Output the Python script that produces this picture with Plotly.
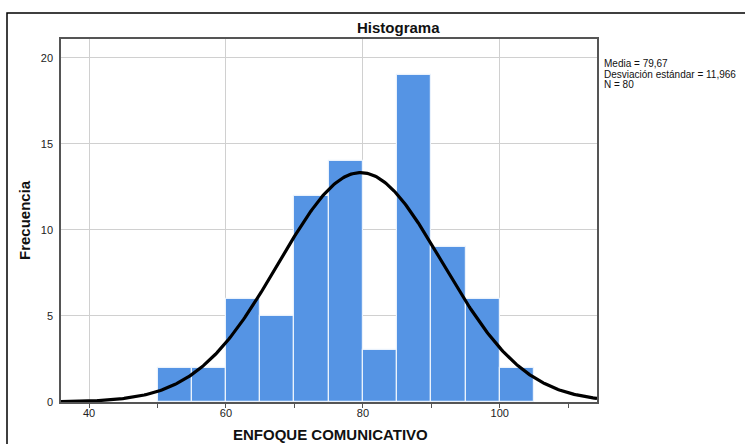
import numpy as np
import plotly.graph_objects as go

# Data
bin_starts = [50, 55, 60, 65, 70, 75, 80, 85, 90, 95, 100]
bin_width = 5
counts = [2, 2, 6, 5, 12, 14, 3, 19, 9, 6, 2]
mean = 79.67
std = 11.966
n = 80
x_tick_vals = [40, 60, 80, 100]
y_tick_vals = [0, 5, 10, 15, 20]

FONT = "Liberation Sans, Arial, sans-serif"

centers = [s + bin_width / 2 for s in bin_starts]

xr = [35.9, 114.2]
xs = np.linspace(xr[0], xr[1], 400)
ys = n * bin_width / (std * np.sqrt(2 * np.pi)) * np.exp(-0.5 * ((xs - mean) / std) ** 2)

fig = go.Figure()
fig.add_trace(go.Bar(
    x=centers, y=counts, width=[bin_width] * len(counts),
    marker=dict(color="#5594E4", line=dict(color="#EAF2FC", width=1.2)),
    hoverinfo="skip",
))
fig.add_trace(go.Scatter(
    x=xs, y=ys, mode="lines", line=dict(color="black", width=3.2), hoverinfo="skip",
))

fig.update_layout(
    width=745, height=444,
    margin=dict(l=61, r=148, t=39, b=42),
    paper_bgcolor="white", plot_bgcolor="white",
    showlegend=False,
    font=dict(family=FONT, color="#222", size=11),
    bargap=0,
)
fig.update_xaxes(
    range=xr, tickvals=x_tick_vals, ticks="", showgrid=True, gridcolor="#D0D0D0", gridwidth=1,
    showline=True, linecolor="#555", linewidth=1.5, mirror=True, zeroline=False,
    tickfont=dict(size=11, color="#222"),
    minor=dict(dtick=10, tick0=40, ticks="outside", ticklen=4, tickcolor="#555", showgrid=False),
)
fig.update_yaxes(
    range=[0, 21.1], tickvals=y_tick_vals, ticks="", showgrid=True, gridcolor="#D0D0D0", gridwidth=1,
    showline=True, linecolor="#555", linewidth=1.5, mirror=True, zeroline=False,
    tickfont=dict(size=11, color="#222"), ticklabelstandoff=4,
)

def px_x(p):
    return (p - 61) / 536

def px_y(p):
    return (402 - p) / 363

fig.add_annotation(text="<b>Histograma</b>", x=px_x(398), y=px_y(27), xref="paper", yref="paper",
                   showarrow=False, font=dict(size=15, family=FONT, color="#111"), xanchor="center", yanchor="middle")
fig.add_annotation(text="<b>ENFOQUE COMUNICATIVO</b>", x=px_x(330), y=px_y(435), xref="paper", yref="paper",
                   showarrow=False, font=dict(size=15, family=FONT, color="#111"), xanchor="center", yanchor="middle")
fig.add_annotation(text="<b>Frecuencia</b>", x=px_x(24), y=px_y(220), xref="paper", yref="paper",
                   showarrow=False, textangle=-90, font=dict(size=15, family=FONT, color="#111"),
                   xanchor="center", yanchor="middle")
stats_lines = [
    f"Media = {mean:.2f}".replace(".", ","),
    f"Desviación estándar = {std:.3f}".replace(".", ","),
    f"N = {n}",
]
for i, line in enumerate(stats_lines):
    fig.add_annotation(
        text=line, x=px_x(603), y=px_y(63.5 + 10.5 * i), xref="paper", yref="paper", showarrow=False,
        align="left", xanchor="left", yanchor="middle", borderpad=0,
        font=dict(size=10, family=FONT, color="#111"),
    )
fig.add_shape(type="rect", xref="paper", yref="paper", x0=px_x(7), y0=px_y(470), x1=px_x(800), y1=px_y(13),
              line=dict(color="black", width=1.5), fillcolor="rgba(0,0,0,0)", layer="below")

fig.write_html("out.html", config={"displayModeBar": False},
               post_script="document.body.style.margin='0';document.body.style.padding='0';")
